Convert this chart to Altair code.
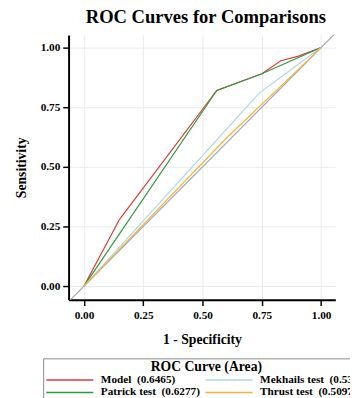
import altair as alt
import pandas as pd

# ROC curve points
model_fpr = [0.0, 0.15, 0.56, 0.75, 0.83, 0.905, 1.0]
model_tpr = [0.0, 0.28, 0.82, 0.89, 0.945, 0.964, 1.0]
patrick_fpr = [0.0, 0.56, 0.75, 1.0]
patrick_tpr = [0.0, 0.82, 0.89, 1.0]
mekhails_fpr = [0.0, 0.74, 1.0]
mekhails_tpr = [0.0, 0.81, 1.0]
thrust_fpr = [0.0, 0.6, 1.0]
thrust_tpr = [0.0, 0.62, 1.0]

names = ["Model", "Patrick test", "Mekhails test", "Thrust test"]
areas = ["0.6465", "0.6277", "0.5360", "0.5097"]
colors = ["#E2393D", "#2F9A3C", "#A8D8EA", "#F2B33D"]

diag_x = [-0.1, 1.1]
diag_y = [-0.1, 1.1]

labels = [f"{n}\u00a0 ({a})" for n, a in zip(names, areas)]
series = {
    labels[0]: (model_fpr, model_tpr),
    labels[1]: (patrick_fpr, patrick_tpr),
    labels[2]: (mekhails_fpr, mekhails_tpr),
    labels[3]: (thrust_fpr, thrust_tpr),
}

rows = []
for lab, (xv_list, yv_list) in series.items():
    for i, (xv, yv) in enumerate(zip(xv_list, yv_list)):
        rows.append({"curve": lab, "fpr": xv, "tpr": yv, "i": i})
df = pd.DataFrame(rows)
diag = pd.DataFrame({"fpr": diag_x, "tpr": diag_y})

FONT = "Liberation Serif"
xs = alt.Scale(domain=[-0.065, 1.06], nice=False, zero=False)
ys = alt.Scale(domain=[-0.057, 1.053], nice=False, zero=False)
tick_vals = [0, 0.25, 0.5, 0.75, 1.0]

xaxis = alt.Axis(title="1 - Specificity", values=tick_vals, format=".2f",
                 titlePadding=12)
yaxis = alt.Axis(title="Sensitivity", values=tick_vals, format=".2f",
                 titlePadding=12)

diag_line = alt.Chart(diag).mark_line(color="#A6A6A6", strokeWidth=1.2, clip=True).encode(
    x=alt.X("fpr:Q", scale=xs, axis=xaxis),
    y=alt.Y("tpr:Q", scale=ys, axis=yaxis),
)

# long horizontal stroke symbol: starts at the symbol box's left edge
LINE_SYMBOL = "M-1,0H7.2"

lines = alt.Chart(df).mark_line(strokeWidth=1.2).encode(
    x=alt.X("fpr:Q", scale=xs, axis=xaxis),
    y=alt.Y("tpr:Q", scale=ys, axis=yaxis),
    color=alt.Color(
        "curve:N",
        scale=alt.Scale(domain=labels, range=colors),
        legend=alt.Legend(
            title="ROC Curve (Area)", orient="none", legendX=-26, legendY=331,
            columns=2, symbolType=LINE_SYMBOL, symbolSize=138, symbolStrokeWidth=1.5,
            symbolFillColor="transparent",
            labelFont=FONT, labelFontSize=11.5, labelFontWeight="bold", labelColor="black",
            titleFont=FONT, titleFontSize=14, titleFontWeight="bold", titleColor="black",
            titleAnchor="middle", titleAlign="center", titlePadding=-1,
            strokeColor="#888888", padding=2, rowPadding=0, columnPadding=2,
            labelOffset=43, labelLimit=400,
        ),
    ),
    order=alt.Order("i:Q"),
    detail="curve:N",
)

chart = alt.layer(diag_line, lines).properties(
    width=273, height=271,
    title=alt.TitleParams("ROC Curves for Comparisons", font=FONT, fontSize=19,
                          fontWeight="bold", anchor="middle", color="black", offset=8,
                          frame="group", dx=4),
    autosize=alt.AutoSizeParams(type="none"),
    padding={"left": 62, "top": 23, "right": 15, "bottom": 96},
).configure_view(stroke=None).configure_axis(
    labelFont=FONT, labelFontSize=11.5, labelFontWeight="bold", labelColor="black",
    titleFont=FONT, titleFontSize=14, titleFontWeight="bold", titleColor="black",
    domainColor="black", domainWidth=2, tickColor="black", tickWidth=1.5, tickSize=6,
    labelPadding=3, gridColor="#EBEBEB", gridWidth=1,
).configure_axisX(labelPadding=4)

chart.save("out.html", embed_options={"renderer": "svg", "actions": False})
